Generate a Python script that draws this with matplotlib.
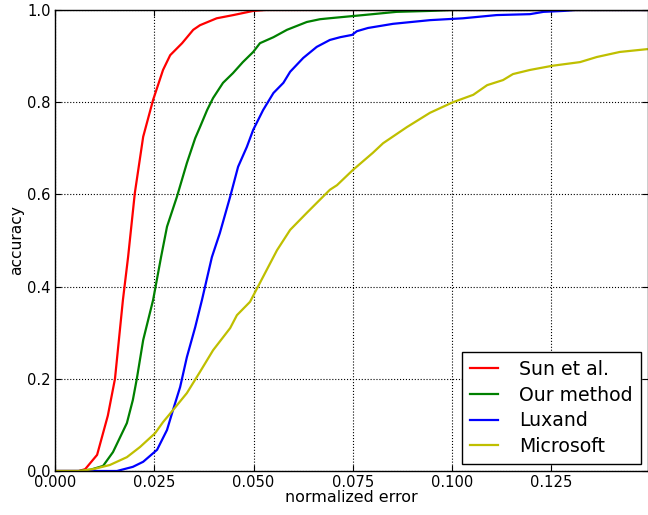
import matplotlib
matplotlib.use("Agg")
from matplotlib import pyplot as plt

# curvas (error normalizado vs accuracy)
sun_x = [0.0, 0.006, 0.0076, 0.0106, 0.0133, 0.0151, 0.0171, 0.0184, 0.0201, 0.0222,
         0.0247, 0.0272, 0.029, 0.032, 0.0348, 0.0365, 0.0407, 0.0449, 0.0499, 0.053, 0.149]
sun_y = [0.0, 0.0, 0.004, 0.035, 0.12, 0.2, 0.371, 0.464, 0.603, 0.725,
         0.805, 0.87, 0.902, 0.928, 0.957, 0.967, 0.982, 0.989, 0.998, 1.0, 1.0]

our_x = [0.0, 0.006, 0.009, 0.0121, 0.0146, 0.0181, 0.0196, 0.0206, 0.0222, 0.0247,
         0.0267, 0.0282, 0.0307, 0.0332, 0.0353, 0.0365, 0.0383, 0.0398, 0.0423, 0.0448,
         0.0473, 0.0499, 0.0516, 0.055, 0.0584, 0.0634, 0.0667, 0.069, 0.0776, 0.086,
         0.0944, 0.1, 0.149]
our_y = [0.0, 0.0, 0.003, 0.011, 0.041, 0.104, 0.154, 0.2, 0.284, 0.371,
         0.464, 0.53, 0.595, 0.668, 0.722, 0.746, 0.783, 0.809, 0.842, 0.863,
         0.887, 0.909, 0.928, 0.941, 0.957, 0.974, 0.98, 0.982, 0.989, 0.996,
         0.998, 1.0, 1.0]

lux_x = [0.0, 0.0156, 0.0196, 0.0222, 0.0257, 0.0282, 0.0297, 0.0315, 0.0332, 0.0353,
         0.037, 0.0395, 0.0415, 0.0441, 0.0461, 0.0483, 0.0499, 0.0524, 0.055, 0.0575,
         0.0592, 0.0625, 0.0659, 0.0692, 0.0718, 0.0748, 0.076, 0.0788, 0.0851, 0.0944,
         0.1027, 0.1112, 0.1196, 0.123, 0.128, 0.131, 0.149]
lux_y = [0.0, 0.0, 0.009, 0.02, 0.046, 0.089, 0.132, 0.182, 0.247, 0.312,
         0.371, 0.464, 0.516, 0.595, 0.66, 0.703, 0.74, 0.783, 0.82, 0.842,
         0.866, 0.896, 0.92, 0.935, 0.941, 0.946, 0.954, 0.961, 0.97, 0.978,
         0.982, 0.989, 0.991, 0.996, 0.998, 1.0, 1.0]

ms_x = [0.0, 0.006, 0.0096, 0.0138, 0.0181, 0.0214, 0.0252, 0.0272, 0.0297, 0.0332,
        0.0365, 0.0398, 0.0441, 0.0458, 0.0491, 0.0559, 0.0592, 0.0634, 0.0692, 0.071,
        0.075, 0.08, 0.0826, 0.0886, 0.0944, 0.1002, 0.1053, 0.1088, 0.1128, 0.1153,
        0.1196, 0.1252, 0.1322, 0.1364, 0.1422, 0.149]
ms_y = [0.0, 0.0, 0.004, 0.013, 0.03, 0.052, 0.082, 0.106, 0.132, 0.169,
        0.215, 0.262, 0.31, 0.338, 0.367, 0.479, 0.523, 0.56, 0.61, 0.62,
        0.653, 0.69, 0.711, 0.746, 0.777, 0.8, 0.816, 0.837, 0.848, 0.861,
        0.87, 0.879, 0.887, 0.898, 0.909, 0.915]

fig = plt.figure(figsize=(6.48, 5.15), dpi=100)
ax = fig.add_axes([55 / 648, 44 / 515, 593 / 648, 461 / 515])

ax.plot(sun_x, sun_y, color='r', lw=1.6, label='Sun et al.')
ax.plot(our_x, our_y, color='g', lw=1.6, label='Our method')
ax.plot(lux_x, lux_y, color='b', lw=1.6, label='Luxand')
ax.plot(ms_x, ms_y, color=(0.75, 0.75, 0), lw=1.6, label='Microsoft')

ax.set_xlim(0, 0.1493)
ax.set_ylim(0, 1.0)
ax.set_xticks([0, 0.025, 0.05, 0.075, 0.1, 0.125])
ax.set_xticklabels(["0.000", "0.025", "0.050", "0.075", "0.100", "0.125"])
ax.set_yticks([0, 0.2, 0.4, 0.6, 0.8, 1.0])
ax.set_yticklabels(["0.0", "0.2", "0.4", "0.6", "0.8", "1.0"])
ax.tick_params(direction='in', top=True, right=True, length=4, labelsize=10.6, pad=3)
ax.grid(True, color='k', linestyle=':', linewidth=0.8)
for s in ax.spines.values():
  s.set_linewidth(1.0)

ax.set_xlabel('normalized error', fontsize=11.4, labelpad=0)
ax.set_ylabel('accuracy', fontsize=11.2, labelpad=2)

leg = ax.legend(loc='lower right', fontsize=13.6, fancybox=False, framealpha=1,
                edgecolor='k', handlelength=1.5, handletextpad=1.1, borderpad=0.45,
                labelspacing=0.35, borderaxespad=0.35)
leg.get_frame().set_linewidth(1.0)

plt.savefig("out.png", dpi=100)
